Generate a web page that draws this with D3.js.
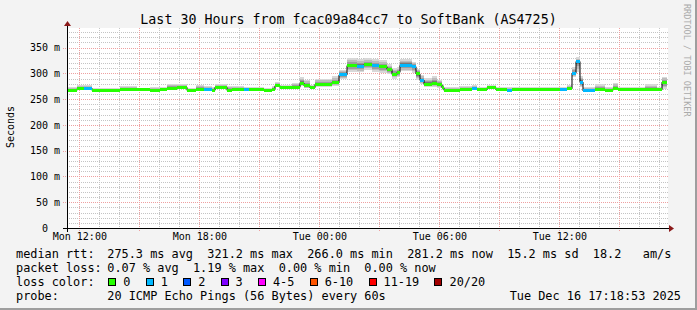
<!DOCTYPE html>
<html>
<head>
<meta charset="utf-8">
<script src="https://cdn.jsdelivr.net/npm/d3@7"></script>
<style>
body { margin: 0; background: #f3f3f3; }
text { font-family: "DejaVu Sans Mono", monospace; fill: #000; white-space: pre; }
</style>
</head>
<body>
<div id="chart"></div>
<script>
// step starts, minutes after Mon Dec 15 11:23
var stepMin = [0, 30, 51, 75, 159, 210, 249, 279, 300, 330, 360, 387, 411, 435, 444, 480, 495, 531, 546, 591,
  615, 624, 639, 675, 699, 711, 729, 744, 795, 816, 840, 870, 891, 915, 936, 960, 975, 990, 999, 1035,
  1047, 1059, 1071, 1095, 1110, 1125, 1131, 1179, 1215, 1230, 1260, 1287, 1320, 1335, 1479, 1500, 1515, 1527, 1539, 1548,
  1584, 1614, 1638, 1653, 1734, 1770, 1785];
var median = [267, 270, 271, 267, 269, 268, 267, 268, 271, 273, 267, 269, 268, 267, 273, 267, 269, 268, 268, 267,
  269, 276, 272, 273, 281, 276, 272, 279, 282, 297, 315, 314, 317, 315, 313, 308, 298, 302, 316, 313,
  299, 287, 279, 281, 278, 272, 267, 268, 270, 268, 272, 268, 267, 268, 268, 270, 300, 323, 283, 266,
  269, 267, 270, 268, 269, 268, 283];
var loss = [0, 0, 1, 0, 0, 0, 0, 0, 0, 0, 0, 0, 1, 0, 0, 0, 0, 1, 0, 0,
  0, 0, 0, 0, 0, 0, 0, 0, 0, 1, 0, 1, 0, 1, 0, 0, 0, 0, 1, 1,
  0, 1, 0, 0, 0, 0, 0, 0, 1, 0, 0, 0, 1, 0, 1, 0, 1, 1, 1, 1,
  0, 0, 0, 0, 0, 0, 0];
var smokeHi = [7, 8, 6, 5, 6, 4, 6, 6, 8, 7, 5, 9, 7, 6, 7, 8, 6, 5, 6, 5,
  6, 7, 6, 8, 12, 12, 6, 10, 12, 10, 14, 13, 12, 12, 12, 10, 12, 10, 12, 10,
  10, 10, 12, 14, 10, 8, 6, 7, 8, 6, 6, 5, 6, 5, 6, 8, 12, 8, 12, 8,
  10, 6, 12, 5, 10, 6, 10];
var smokeLo = [2, 2, 2, 2, 2, 2, 2, 2, 2, 2, 2, 2, 2, 2, 2, 2, 2, 2, 2, 2,
  2, 3, 3, 4, 6, 5, 3, 6, 6, 8, 12, 12, 10, 12, 12, 10, 8, 10, 12, 12,
  12, 8, 6, 8, 6, 4, 2, 2, 2, 2, 3, 2, 2, 2, 2, 2, 8, 20, 10, 1,
  2, 2, 2, 2, 2, 2, 14];
var yTicks = [0, 50, 100, 150, 200, 250, 300, 350];
var lossLabels = ["0", "1", "2", "3", "4-5", "6-10", "11-19", "20/20"];
var lossColors = ["#26ff00", "#00b8ff", "#0059ff", "#7e00ff", "#ff00ff", "#ff5500", "#ff0000", "#a10000"];
var statLabels = ["median rtt:", "packet loss:", "loss color:", "probe:"];
var statText = [
  "275.3 ms avg  321.2 ms max  266.0 ms min  281.2 ms now  15.2 ms sd  18.2   am/s",
  "0.07 % avg  1.19 % max  0.00 % min  0.00 % now",
  "",
  "20 ICMP Echo Pings (56 Bytes) every 60s"
];
var stamp = "Tue Dec 16 17:18:53 2025";

var W = 697, H = 310;
var start = new Date(2025, 11, 15, 11, 23);
var end = d3.timeMinute.offset(start, 1800);

var svg = d3.select("#chart").append("svg")
    .attr("width", W)
    .attr("height", H);

svg.append("rect").attr("width", W).attr("height", H).attr("fill", "#f3f3f3");
svg.append("rect").attr("x", W - 2).attr("y", 0).attr("width", 2).attr("height", H).attr("fill", "#9e9e9e");
svg.append("rect").attr("x", 0).attr("y", H - 2).attr("width", W).attr("height", 2).attr("fill", "#9e9e9e");

var x = d3.scaleTime().domain([start, end]).range([67, 667]);
var y = d3.scaleLinear().domain([0, 388]).range([228, 28]);

svg.append("rect")
    .attr("x", 67).attr("y", 28)
    .attr("width", 601).attr("height", 200)
    .attr("fill", "#fff");

// grid
var grid = svg.append("g").attr("shape-rendering", "crispEdges");
grid.selectAll("line.hmin")
    .data(d3.range(10, 390, 10).filter(function(v) { return v % 50 != 0; }))
    .enter().append("line")
    .attr("x1", 67).attr("x2", 668)
    .attr("y1", function(d) { return Math.round(y(d)) + 0.5; })
    .attr("y2", function(d) { return Math.round(y(d)) + 0.5; })
    .attr("stroke", "#c4c4c4").attr("stroke-dasharray", "1,1");
grid.selectAll("line.vmin")
    .data(x.ticks(d3.timeHour.every(1)).filter(function(d) { return d.getHours() % 3 != 0; }))
    .enter().append("line")
    .attr("x1", function(d) { return Math.round(x(d)) + 0.5; })
    .attr("x2", function(d) { return Math.round(x(d)) + 0.5; })
    .attr("y1", 28).attr("y2", 228)
    .attr("stroke", "#c4c4c4").attr("stroke-dasharray", "1,1");
grid.selectAll("line.hmaj")
    .data(yTicks.slice(1))
    .enter().append("line")
    .attr("x1", 63).attr("x2", 668)
    .attr("y1", function(d) { return Math.round(y(d)) + 0.5; })
    .attr("y2", function(d) { return Math.round(y(d)) + 0.5; })
    .attr("stroke", "#eea0a0").attr("stroke-dasharray", "1,1");
grid.selectAll("line.vmaj")
    .data(x.ticks(d3.timeHour.every(3)))
    .enter().append("line")
    .attr("x1", function(d) { return Math.round(x(d)) + 0.5; })
    .attr("x2", function(d) { return Math.round(x(d)) + 0.5; })
    .attr("y1", 28).attr("y2", 232)
    .attr("stroke", "#eea0a0").attr("stroke-dasharray", "1,1");

// smoke
var segs = stepMin.map(function(m, i) {
  return {
    t0: d3.timeMinute.offset(start, m),
    t1: d3.timeMinute.offset(start, i < stepMin.length - 1 ? stepMin[i + 1] : 1800),
    med: median[i], loss: loss[i], hi: smokeHi[i], lo: smokeLo[i]
  };
});
var layers = [[1, "#d8d8d8"], [0.72, "#bcbcbc"], [0.48, "#9c9c9c"], [0.28, "#777"]];
layers.forEach(function(l) {
  svg.append("g").attr("shape-rendering", "crispEdges")
    .selectAll("rect").data(segs).enter().append("rect")
    .attr("x", function(d) { return x(d.t0); })
    .attr("width", function(d) { return x(d.t1) - x(d.t0); })
    .attr("y", function(d) { return y(d.med + d.hi * l[0]); })
    .attr("height", function(d) { return y(d.med - d.lo * l[0]) - y(d.med + d.hi * l[0]); })
    .attr("fill", l[1]);
});

// median
var pts = segs.map(function(d) { return [d.t0, d.med]; });
pts.push([end, median[median.length - 1]]);
svg.append("path")
    .datum(pts)
    .attr("fill", "none")
    .attr("stroke", "#000")
    .attr("stroke-width", 1)
    .attr("d", d3.line().curve(d3.curveStepAfter)
      .x(function(d) { return x(d[0]); })
      .y(function(d) { return y(d[1]); }));
svg.append("g").attr("shape-rendering", "crispEdges")
    .selectAll("rect").data(segs).enter().append("rect")
    .attr("x", function(d) { return x(d.t0); })
    .attr("width", function(d) { return x(d.t1) - x(d.t0); })
    .attr("y", function(d) { return y(d.med) - 1.5; })
    .attr("height", 3)
    .attr("fill", function(d) { return lossColors[d.loss]; });

// axes
var yAxis = svg.append("g")
    .attr("transform", "translate(67,0)")
    .call(d3.axisLeft(y).tickValues(yTicks).tickSize(0).tickPadding(7)
      .tickFormat(function(d) { return d ? d + " m" : "0  "; }));
yAxis.select(".domain").remove();
yAxis.selectAll("text").attr("font-size", 10).attr("font-family", "DejaVu Sans Mono");

var xAxis = svg.append("g")
    .attr("transform", "translate(0,228)")
    .call(d3.axisBottom(x).ticks(d3.timeHour.every(6)).tickSize(0).tickPadding(5)
      .tickFormat(d3.timeFormat("%a %H:%M")));
xAxis.select(".domain").remove();
xAxis.selectAll("text").attr("font-size", 10).attr("font-family", "DejaVu Sans Mono");

svg.append("line").attr("x1", 63).attr("x2", 670).attr("y1", 228.5).attr("y2", 228.5)
    .attr("stroke", "#000").attr("shape-rendering", "crispEdges");
svg.append("line").attr("x1", 67.5).attr("x2", 67.5).attr("y1", 232).attr("y2", 25)
    .attr("stroke", "#000").attr("shape-rendering", "crispEdges");
svg.append("path").attr("d", "M669,225L674,228.5L669,232Z").attr("fill", "#8b1a1a");
svg.append("path").attr("d", "M64,26L67.5,21L71,26Z").attr("fill", "#8b1a1a");

// titles
svg.append("text")
    .attr("x", 348.5).attr("y", 24)
    .attr("text-anchor", "middle")
    .attr("font-size", 13.3)
    .text("Last 30 Hours from fcac09a84cc7 to SoftBank (AS4725)");
svg.append("text")
    .attr("transform", "translate(14,127) rotate(-90)")
    .attr("text-anchor", "middle")
    .attr("font-size", 10)
    .text("Seconds");
svg.append("text")
    .attr("transform", "translate(684,4) rotate(90)")
    .attr("font-size", 8.5)
    .style("fill", "#aaa")
    .text("RRDTOOL / TOBI OETIKER");

// legend
var leg = svg.append("g").attr("font-size", 11.86);
leg.selectAll("text.lab").data(statLabels).enter().append("text")
    .attr("x", 16).attr("y", function(d, i) { return 257.5 + i * 14; })
    .text(function(d) { return d; });
leg.selectAll("text.val").data(statText).enter().append("text")
    .attr("x", 107.3).attr("y", function(d, i) { return 257.5 + i * 14; })
    .text(function(d) { return d; });
leg.append("text").attr("x", 681).attr("y", 299.5).attr("text-anchor", "end").text(stamp);

var cw = 7.14, cur = 107.3, boxPos = [];
lossLabels.forEach(function(l) {
  boxPos.push(cur);
  cur = cur + 16 + (l.length + 2) * cw;
});
leg.selectAll("rect.box").data(lossColors).enter().append("rect")
    .attr("x", function(d, i) { return Math.round(boxPos[i] + 1) + 0.5; })
    .attr("y", 278.5).attr("width", 7).attr("height", 7)
    .attr("fill", function(d) { return d; })
    .attr("stroke", "#000").attr("shape-rendering", "crispEdges");
leg.selectAll("text.loss").data(lossLabels).enter().append("text")
    .attr("x", function(d, i) { return boxPos[i] + 16; })
    .attr("y", 285.5)
    .text(function(d) { return d; });
</script>
</body>
</html>
